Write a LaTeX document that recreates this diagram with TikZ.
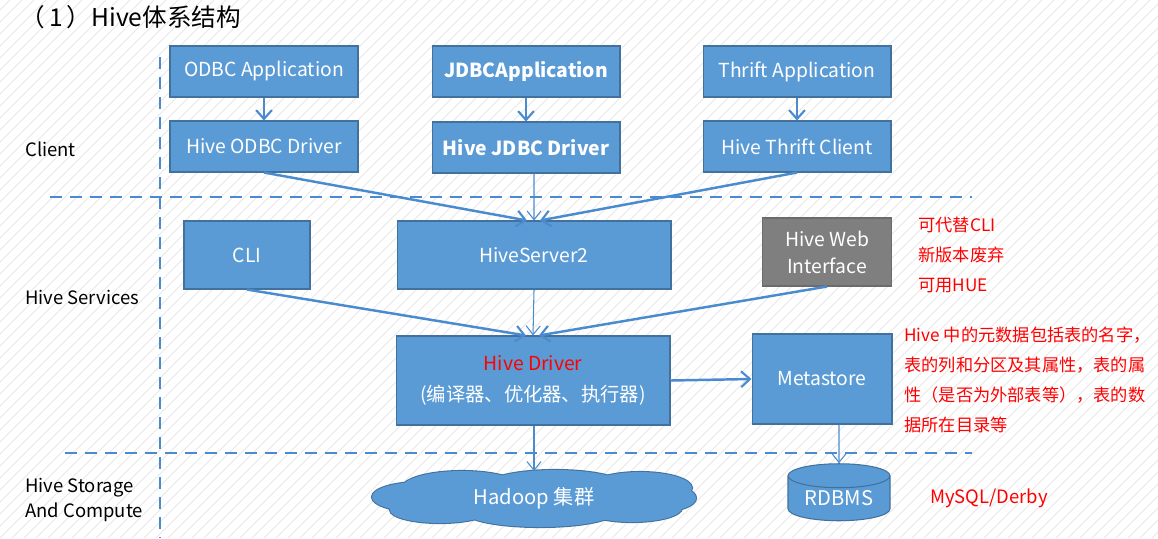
\documentclass[tikz,border=0pt]{standalone}
\usepackage{fontspec}
\setmainfont{Noto Sans CJK SC}
\usetikzlibrary{arrows.meta,shapes.geometric}
\definecolor{boxblue}{HTML}{5B9BD5}
\definecolor{boxedge}{HTML}{41719C}
\definecolor{lineblue}{HTML}{4A8BD0}
\definecolor{grayfill}{HTML}{7F7F7F}
\definecolor{grayedge}{HTML}{6B6B6B}
\definecolor{notered}{HTML}{FF0000}
\tikzset{
  box/.style={draw=boxedge, fill=boxblue, text=white, line width=0.6pt, inner sep=0pt, align=center,
    font=\fontsize{11}{15}\selectfont},
  clientbox/.style={box, minimum width=3.76cm, minimum height=1.02cm},
  graybox/.style={box, draw=grayedge, fill=grayfill},
  thickarrow/.style={draw=lineblue, line width=1.4pt, -{Straight Barb[length=5pt,width=9pt,line width=1.2pt]}},
  thinarrow/.style={draw=lineblue, line width=0.6pt, -{Straight Barb[length=5pt,width=8pt,line width=0.6pt]}},
  divider/.style={draw=lineblue, line width=1.5pt, dash pattern=on 0.24cm off 0.16cm},
  lefttext/.style={anchor=west, align=left, font=\fontsize{10.5}{15}\selectfont, text=black, inner sep=0pt},
  note/.style={anchor=west, align=left, font=\fontsize{9.8}{17}\selectfont, text=notered, inner sep=0pt},
  hatch/.style={draw=black!9, line width=0.5pt},
  cloudpath/.style={insert path={
    (420,497) ellipse [x radius=0.96cm, y radius=0.30cm]
    (462,488) ellipse [x radius=1.20cm, y radius=0.34cm]
    (555,486) ellipse [x radius=1.40cm, y radius=0.32cm]
    (640,488) ellipse [x radius=1.04cm, y radius=0.32cm]
    (662,498) ellipse [x radius=0.68cm, y radius=0.27cm]
    (440,510) ellipse [x radius=1.00cm, y radius=0.26cm]
    (540,512) ellipse [x radius=1.50cm, y radius=0.30cm]
    (632,508) ellipse [x radius=1.00cm, y radius=0.28cm]
    (534,498) ellipse [x radius=2.40cm, y radius=0.40cm]}}
}
\begin{document}
\begin{tikzpicture}[x=0.02cm, y=-0.02cm]
\useasboundingbox (0,0) rectangle (1158,538);
\fill[white] (0,0) rectangle (1158,538);
\begin{scope}
  \clip (0,0) rectangle (1158,538);
  \foreach \i in {-540,-528,...,1164} { \draw[hatch] (\i,538) -- (\i+538,0); }
\end{scope}

% title
\node[anchor=west, inner sep=0pt, font=\fontsize{14}{16}\selectfont] (title) at (20,17) {（\,1\,）Hive体系结构};

% dividers
\coordinate (vtop) at (160,57);
\coordinate (vbot) at (160,538);
\coordinate (h1l) at (50,197);
\coordinate (h1r) at (972,197);
\coordinate (h2l) at (65,453);
\coordinate (h2r) at (972,453);
\draw[divider] (vtop) -- (vbot);
\draw[divider] (h1l) -- (h1r);
\draw[divider] (h2l) -- (h2r);

% layer labels
\node[lefttext] (lclient) at (25,149) {Client};
\node[lefttext] (lserv) at (25,297) {Hive Services};
\node[lefttext, font=\fontsize{10.5}{14.7}\selectfont] (lstore) at (25,500) {Hive Storage\\And Compute};

% client boxes
\node[clientbox] (odbcapp) at (264,71.5) {ODBC Application};
\node[clientbox] (odbcdrv) at (264,146.5) {Hive ODBC Driver};
\node[clientbox, font=\fontsize{11}{15}\selectfont\bfseries] (jdbcapp) at (526,71.5) {JDBCApplication};
\node[clientbox, font=\fontsize{11}{15}\selectfont\bfseries] (jdbcdrv) at (526,147.5) {Hive JDBC Driver};
\node[clientbox] (thriftapp) at (797,71.5) {Thrift Application};
\node[clientbox] (thriftdrv) at (797,146.5) {Hive Thrift Client};

% services
\node[box, minimum width=2.52cm, minimum height=1.36cm] (cli) at (247,255) {CLI};
\node[box, minimum width=5.48cm, minimum height=1.36cm] (hs2) at (534,255) {HiveServer2};
\node[graybox, minimum width=2.58cm, minimum height=1.36cm, font=\fontsize{11}{15.3}\selectfont] (web) at (827,252) {Hive Web\\Interface};
\node[box, minimum width=5.48cm, minimum height=1.78cm, font=\fontsize{11}{17.5}\selectfont] (driver) at (533,380.5) {\textcolor{notered}{Hive Driver}\\(编译器、优化器、执行器)};
\node[box, minimum width=2.8cm, minimum height=1.8cm] (meta) at (822,379) {Metastore};

% storage: cloud drawn as union of ellipses
\draw[boxedge, line width=1.2pt, cloudpath];
\fill[boxblue, cloudpath];
\node[inner sep=0pt, minimum width=6.44cm, minimum height=1.14cm, text=white,
      font=\fontsize{11.5}{14}\selectfont] (hadoop) at (534,498) {Hadoop 集群};
\node[cylinder, shape border rotate=90, aspect=0.35, draw=boxedge, fill=boxblue, text=white,
      line width=0.6pt, inner sep=0pt, minimum width=2.04cm, minimum height=1.14cm,
      font=\fontsize{11.5}{14}\selectfont] (rdbms) at (839,498.5) {RDBMS};

% notes
\node[note] (n1) at (918,255) {可代替CLI\\新版本废弃\\可用HUE};
\node[note] (n2) at (904,380) {Hive 中的元数据包括表的名字，\\表的列和分区及其属性，表的属\\性（是否为外部表等），表的数\\据所在目录等};
\node[note, font=\fontsize{10.5}{14}\selectfont] (n3) at (930,498) {MySQL/Derby};

% connectors
\draw[thickarrow] (odbcapp) -- (odbcdrv);
\draw[thickarrow] (jdbcapp) -- (jdbcdrv);
\draw[thickarrow] (thriftapp) -- (thriftdrv);
\draw[thickarrow] (odbcdrv.south) -- ([xshift=-0.14cm]hs2.north);
\draw[thinarrow] ([xshift=0.16cm]jdbcdrv.south) -- (hs2.north);
\draw[thickarrow] (thriftdrv.south) -- ([xshift=0.12cm]hs2.north);
\draw[thickarrow] (cli.south) -- ([xshift=-0.14cm]driver.north);
\draw[thinarrow] (hs2.south) -- (driver.north);
\draw[thickarrow] (web.south) -- ([xshift=0.12cm]driver.north);
\draw[thickarrow] (driver.east) -- (meta.west);
\draw[thinarrow] ([xshift=0.02cm]driver.south) -- ([yshift=-0.04cm]hadoop.north);
\draw[thinarrow] ([xshift=0.34cm]meta.south) -- (rdbms.north);
\end{tikzpicture}
\end{document}
